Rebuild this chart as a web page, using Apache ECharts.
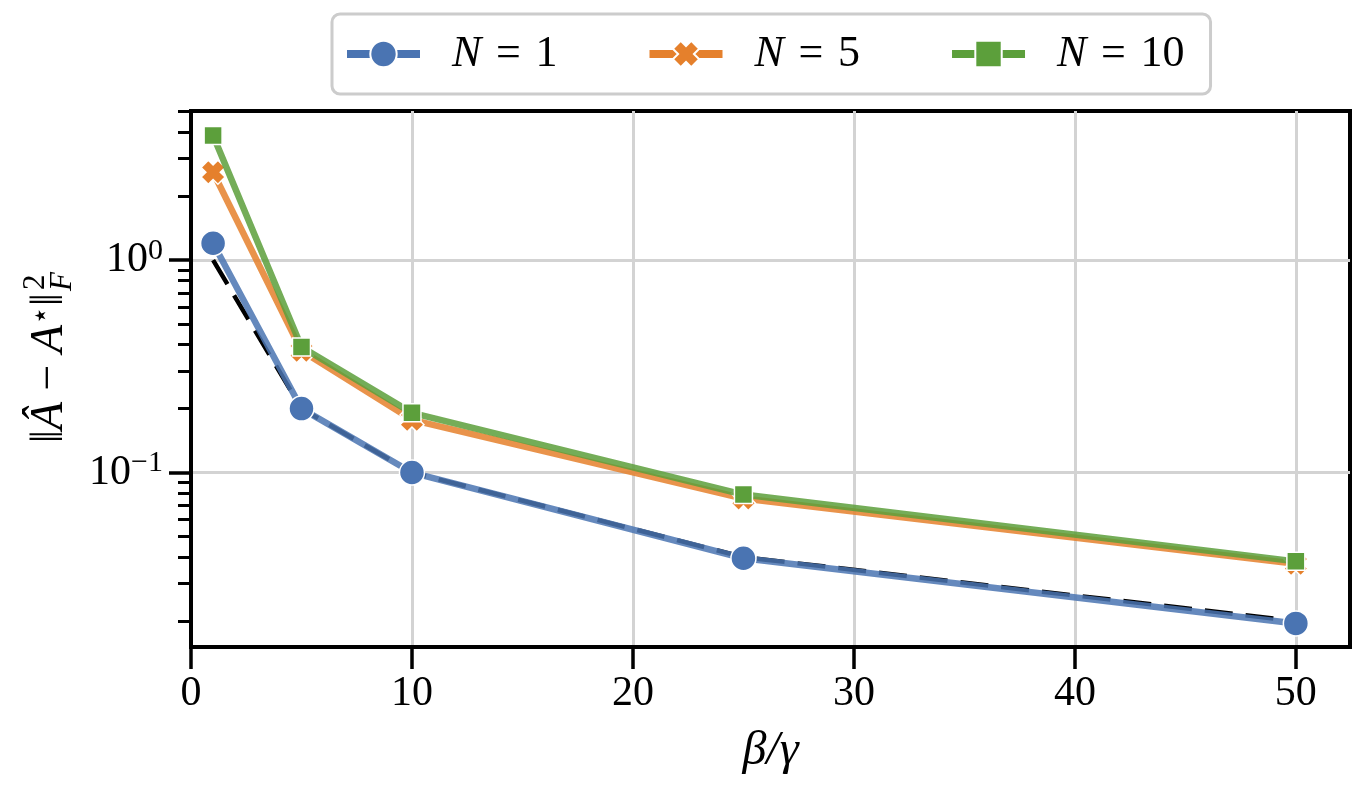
<!DOCTYPE html>
<html>
<head>
<meta charset="utf-8">
<script src="https://cdn.jsdelivr.net/npm/echarts@6/dist/echarts.min.js"></script>
<style>
  html, body { margin: 0; padding: 0; background: #fff; }
  #chart { width: 1365px; height: 789px; }
</style>
</head>
<body>
<div id="chart"></div>
<script>
var ratio = [1, 5, 10, 25, 50];
var errN1 = [1.2, 0.2, 0.1, 0.0395, 0.0195];
var errN5 = [2.59, 0.374, 0.177, 0.0755, 0.0372];
var errN10 = [3.86, 0.39, 0.191, 0.0788, 0.0382];
var bound = [1.0, 0.2, 0.1, 0.04, 0.02];
var xTicks = [0, 10, 20, 30, 40, 50];
var yMajor = [0.1, 1];
var yMinor = [0.02, 0.03, 0.04, 0.05, 0.06, 0.07, 0.08, 0.09,
              0.2, 0.3, 0.4, 0.5, 0.6, 0.7, 0.8, 0.9, 2, 3, 4, 5];

var FONT = 'Liberation Serif';
var cBlue = '#4a74b2', cOrange = '#e5802c', cGreen = '#5c9f3b';
var xMark = 'path://M0,3 L3,0 L5,2 L7,0 L10,3 L8,5 L10,7 L7,10 L5,8 L3,10 L0,7 L2,5 Z';

function pairs(ys) {
  return ratio.map(function (x, i) { return [x, ys[i]]; });
}

var chart = echarts.init(document.getElementById('chart'));

function mkSeries(name, ys, color, symbol, size, z) {
  return {
    name: name,
    type: 'line',
    data: pairs(ys),
    z: z,
    symbol: symbol,
    symbolSize: size,
    itemStyle: { color: color, borderColor: '#fff', borderWidth: 1.5 },
    lineStyle: { color: color, width: 6.5, opacity: 0.85 },
    emphasis: { disabled: true }
  };
}

var option = {
  backgroundColor: '#fff',
  animation: false,
  textStyle: { fontFamily: FONT },
  grid: {
    left: 191, right: 15, top: 111, bottom: 142,
    show: true, borderColor: '#000', borderWidth: 4
  },
  legend: {
    data: ['N1', 'N5', 'N10'],
    top: 14,
    left: 332,
    itemWidth: 73,
    itemHeight: 33,
    itemGap: 88,
    padding: [18, 26, 18, 11],
    borderColor: '#cccccc',
    borderWidth: 3,
    borderRadius: 8,
    lineStyle: { width: 8, opacity: 1 },
    formatter: function (n) {
      return '{i|N}\u2004=\u2004' + n.slice(1);
    },
    textStyle: {
      fontFamily: FONT, fontSize: 44, color: '#000',
      padding: [0, 0, 0, 27],
      rich: { i: { fontFamily: FONT, fontSize: 44, fontStyle: 'italic' } }
    }
  },
  xAxis: {
    type: 'value',
    min: 0,
    max: 52.45,
    name: 'β/γ',
    nameLocation: 'middle',
    nameGap: 80,
    nameTextStyle: { fontFamily: FONT, fontSize: 48, fontStyle: 'italic', color: '#000' },
    axisLine: { show: true, lineStyle: { color: '#000', width: 4 } },
    axisTick: { show: true, customValues: xTicks, length: 22, lineStyle: { color: '#000', width: 3.5 } },
    axisLabel: { customValues: xTicks, margin: 26, fontFamily: FONT, fontSize: 42, color: '#000' },
    splitLine: { show: true, lineStyle: { color: '#d3d3d3', width: 3 } }
  },
  yAxis: [{
    type: 'log',
    min: 0.0151,
    max: 5.03,
    position: 'left',
    axisLine: { show: true, lineStyle: { color: '#000', width: 4 } },
    axisTick: { show: true, customValues: yMajor, length: 22, lineStyle: { color: '#000', width: 3.5 } },
    axisLabel: {
      customValues: yMajor,
      margin: 28,
      formatter: function (v) {
        return v > 0.5 ? '{b|10}{s|0}' : '{b|10}{s|−1}';
      },
      rich: {
        b: { fontFamily: FONT, fontSize: 42, color: '#000', lineHeight: 48 },
        s: { fontFamily: FONT, fontSize: 30, color: '#000', lineHeight: 30, verticalAlign: 'top' }
      }
    },
    splitLine: { show: true, lineStyle: { color: '#d3d3d3', width: 3 } }
  }, {
    type: 'log',
    min: 0.0151,
    max: 5.03,
    position: 'left',
    axisLine: { show: false },
    axisTick: { show: true, customValues: yMinor, length: 13, lineStyle: { color: '#000', width: 3 } },
    axisLabel: { show: false },
    splitLine: { show: false }
  }],
  graphic: [{
    type: 'group',
    x: 50,
    y: 293,
    rotation: Math.PI / 2,
    children: [{
      type: 'text',
      x: 0, y: 0,
      style: {
        text: '‖{i|Â} − {i|A}{s|⋆}‖',
        align: 'right', verticalAlign: 'middle',
        fontFamily: FONT, fontSize: 46, fill: '#000',
        rich: {
          i: { fontFamily: FONT, fontSize: 46, fontStyle: 'italic' },
          s: { fontFamily: FONT, fontSize: 30, verticalAlign: 'top', lineHeight: 26 }
        }
      }
    }, {
      type: 'text',
      x: 3, y: -14,
      style: { text: '2', align: 'left', verticalAlign: 'middle', fontFamily: FONT, fontSize: 31, fill: '#000' }
    }, {
      type: 'text',
      x: 2, y: 13,
      style: { text: 'F', align: 'left', verticalAlign: 'middle', fontFamily: FONT, fontSize: 31, fontStyle: 'italic', fill: '#000' }
    }]
  }],
  series: [{
    name: 'bound',
    type: 'line',
    data: pairs(bound),
    z: 1,
    symbol: 'none',
    lineStyle: { color: '#000', width: 4.5, type: [28, 13] },
    emphasis: { disabled: true }
  },
    mkSeries('N1', errN1, cBlue, 'circle', 25, 2),
    mkSeries('N5', errN5, cOrange, xMark, 24, 3),
    mkSeries('N10', errN10, cGreen, 'rect', 18, 4)
  ]
};

chart.setOption(option);
</script>
</body>
</html>
